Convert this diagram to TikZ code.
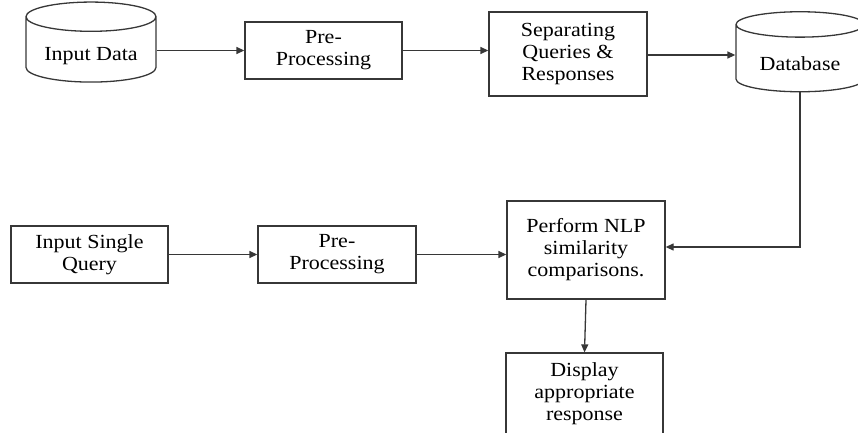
\documentclass[tikz,border=0pt]{standalone}
\usepackage{fontspec}
\setmainfont{Liberation Serif}[FakeStretch=1.1]
\usepackage{tikz}
\usetikzlibrary{arrows.meta, positioning, shapes.geometric}
\definecolor{lineGray}{RGB}{55,55,55}

\begin{document}
\begin{tikzpicture}[
		x=1pt, y=-1pt,
		% ستايل المستطيل الأساسي
		stepBox/.style={
			rectangle,
			draw=lineGray,
			line width=1.3pt,
			minimum width=157pt,
			align=center,
			inner sep=2pt,
			font=\fontsize{20}{22}\selectfont
		},
		% ستايل قاعدة البيانات
		dbShape/.style={
			cylinder,
			shape border rotate=90,
			aspect=0.3,
			draw=lineGray,
			line width=1.3pt,
			align=center,
			inner sep=2pt,
			text height=22pt,
			font=\fontsize{20}{22}\selectfont
		},
		flowArrow/.style={
			draw=lineGray,
			line width=1.3pt,
			-{Triangle[length=8pt,width=7pt]}
		}
		]
		
		\useasboundingbox (0,0) rectangle (858,433);
		\clip (0,0) rectangle (858,433);
		
		% الصف الأول
		\node[dbShape, minimum width=130pt, minimum height=80pt] (inData) at (91,51.5) {Input Data};
		\node[stepBox, minimum height=57pt] (prepA) at (323.5,50.5) {Pre-\\Processing};
		\node[stepBox, minimum width=158pt, minimum height=84pt] (separate) at (568,54) {Separating\\Queries \&\\Responses};
		\node[dbShape, minimum width=128pt, minimum height=80pt] (dbase) at (800,60) {Database};
		
		% الصف الثاني
		\node[stepBox, minimum height=57pt] (inQuery) at (89.5,254.5) {Input Single\\Query};
		\node[stepBox, minimum width=158pt, minimum height=57pt] (prepB) at (337,254.5) {Pre-\\Processing};
		\node[stepBox, minimum width=158pt, minimum height=98pt] (compare) at (586,250) {Perform NLP\\similarity\\comparisons.};
		
		% النتيجة
		\node[stepBox, minimum height=82pt] (display) at (584.5,394) {Display\\appropriate\\response};
		
		% الأسهم
		\draw[flowArrow] (prepA.west -| inData.east) -- (prepA.west);
		\draw[flowArrow] (prepA.east) -- (prepA.east -| separate.west);
		\draw[flowArrow] ([yshift=-1pt]separate.east) -- ([yshift=-1pt]separate.east -| dbase.west);
		\draw[flowArrow] (dbase.south) |- ([yshift=3pt]compare.east);
		\draw[flowArrow] (inQuery.east) -- (prepB.west);
		\draw[flowArrow] (prepB.east) -- (prepB.east -| compare.west);
		\draw[flowArrow] (compare.south) -- (display.north);
		
	\end{tikzpicture}
\end{document}
